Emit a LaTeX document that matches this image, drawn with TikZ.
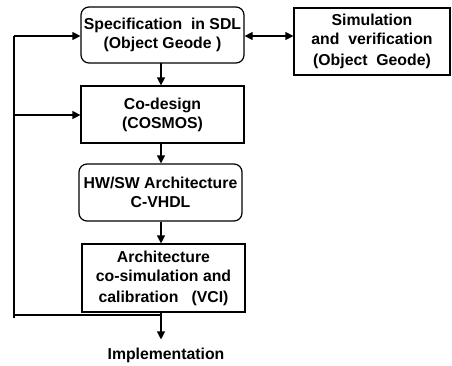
\documentclass[tikz,border=0pt]{standalone}
\usepackage{fontspec}
\setmainfont{Liberation Sans}
\usetikzlibrary{arrows.meta}
\begin{document}
\begin{tikzpicture}[x=1pt,y=-1pt,
  every node/.style={font=\bfseries\fontsize{15.8}{19}\selectfont, align=center, inner sep=0pt},
  boxr/.style={draw, line width=1.2pt, rounded corners=8pt, minimum width=163pt},
  boxs/.style={draw, line width=1.2pt, minimum width=163pt},
  ln/.style={line width=1.2pt},
  arr/.style={line width=1.2pt, -{Triangle[length=8pt,width=8pt]}},
  darr/.style={line width=1.2pt, {Triangle[length=8pt,width=8pt]}-{Triangle[length=8pt,width=8pt]}}]
\useasboundingbox (0,0) rectangle (452,365);
\node[boxr, minimum height=56pt] (spec) at (162.5,35) {Specification~~in SDL\\(Object Geode )};
\node[boxs, minimum width=156pt, minimum height=67pt] (sim) at (372,41.5) {Simulation\\and~~verification\\[2pt](Object~~Geode)};
\node[boxs, minimum height=57pt] (code) at (162.5,114.5) {Co-design\\(COSMOS)};
\node[boxr, minimum height=57pt] (hwsw) at (160.5,192.5) {HW/SW Architecture\\C-VHDL};
\node[boxs, minimum height=68pt] (arch) at (163.5,278) {Architecture\\co-simulation and\\[2pt]calibration~~~(VCI)};
\node (impl) at (166,355) {Implementation};
\coordinate (fb) at (161,315);
\coordinate (fbl) at (14,315);
\coordinate (fbb) at (14,318);
\coordinate (fbt) at (14,36);
\coordinate (fbm) at (14,115);
\draw[darr] (spec.east |- 0,36) -- (sim.west |- 0,36);
\draw[arr] (161,63) -- (code.north -| 161,0);
\draw[arr] (code.south -| 161,0) -- (hwsw.north -| 161,0);
\draw[arr] (hwsw.south -| 161,0) -- (arch.north -| 161,0);
\draw[arr] (arch.south -| 161,0) -- ([yshift=8pt]impl.north -| 161,0);
\draw[ln] (fb) -- (fbl);
\draw[ln] (fbb) -- (fbt);
\draw[arr] (fbt) -- (spec.west |- fbt);
\draw[arr] (fbm) -- (code.west |- fbm);
\end{tikzpicture}
\end{document}
